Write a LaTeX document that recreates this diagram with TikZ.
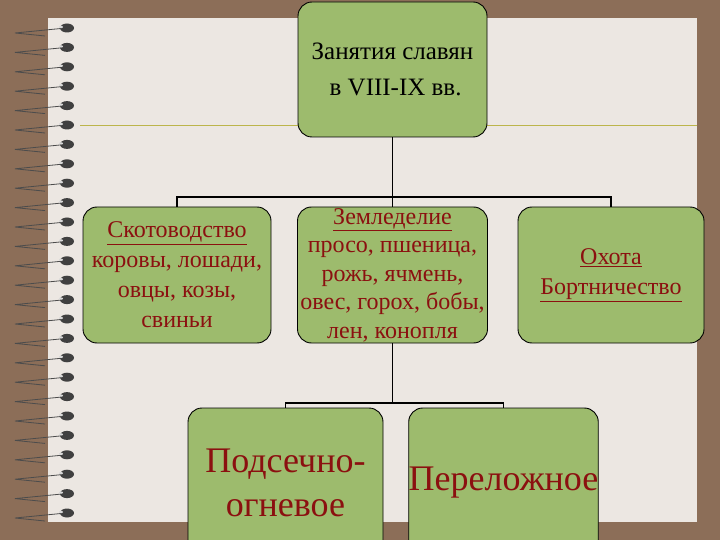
\documentclass[tikz,border=0pt]{standalone}
\usepackage{fontspec}
\setmainfont{Liberation Serif}
\definecolor{bg}{HTML}{8C6E58}
\definecolor{paper}{HTML}{ECE7E2}
\definecolor{boxg}{HTML}{9DBB6D}
\definecolor{txt}{HTML}{8B1010}
\begin{document}
\begin{tikzpicture}[x=1pt,y=-1pt,
  bx/.style={draw=black,line width=0.9pt,fill=boxg,rounded corners=14pt,text=txt,align=center,inner sep=0pt},
  con/.style={draw=black,line width=1.3pt}]
\fill[bg] (0,0) rectangle (720,540);
\useasboundingbox (0,0) rectangle (720,540);
\fill[paper] (48,18) rectangle (697,522);
\draw[olive!60,line width=0.8pt] (80,125) -- (697,125);
\foreach \i in {0,...,25}{
  \pgfmathsetmacro{\yy}{28+\i*19.4}
  \draw[black!70,line width=0.8pt] (66,\yy) -- (15,\yy+5) -- (45,\yy+8);
  \fill[black!75] (67,\yy) ellipse (7pt and 4.5pt);
  \fill[white!70!gray] (61,\yy-1) ellipse (2pt and 1.2pt);
}
\node[bx,text=black,minimum width=189pt,minimum height=135pt,font=\fontsize{25}{36}\selectfont] (top) at (392.5,69.5) {Занятия славян\\ \ в VIII-IX вв.};
\node[bx,minimum width=188pt,minimum height=136pt,font=\fontsize{24}{30}\selectfont] (l) at (177,275) {\underline{Скотоводство}\\коровы, лошади,\\овцы, козы,\\свиньи};
\node[bx,minimum width=190pt,minimum height=136pt,font=\fontsize{24}{28.5}\selectfont] (c) at (392.5,275) {\underline{Земледелие}\\просо, пшеница,\\рожь, ячмень,\\овес, горох, бобы,\\лен, конопля};
\node[bx,minimum width=186pt,minimum height=136pt,font=\fontsize{24}{30}\selectfont] (r) at (611,275) {\underline{Охота}\\\underline{Бортничество}};
\node[bx,minimum width=195pt,minimum height=150pt,font=\fontsize{36}{44}\selectfont] (bl) at (285.5,483) {Подсечно-\\огневое};
\node[bx,minimum width=187pt,minimum height=150pt,font=\fontsize{36}{44}\selectfont] (br) at (503.5,483) {Переложное};
\coordinate (h1) at (392.5,197);
\draw[con] (top.south) -- (h1);
\draw[con] (l.north) |- (h1) -| (r.north);
\draw[con] (h1) -- (c.north);
\coordinate (h2) at (392.5,403);
\draw[con] (c.south) -- (h2);
\draw[con] (bl.north) |- (h2) -| (br.north);
\end{tikzpicture}
\end{document}
